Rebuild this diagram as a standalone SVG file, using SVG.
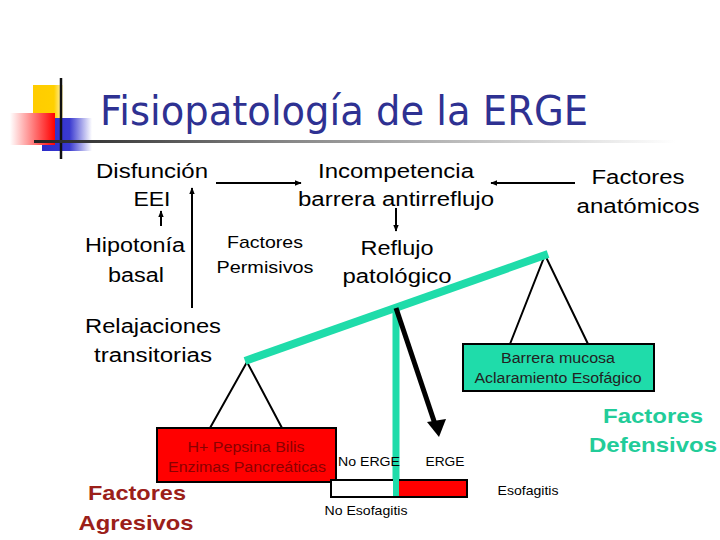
<svg xmlns="http://www.w3.org/2000/svg" width="720" height="540" viewBox="0 0 720 540">
<defs>
<linearGradient id="gRed" x1="0" y1="0" x2="1" y2="0"><stop offset="0" stop-color="#ffffff"/><stop offset="1" stop-color="#ff0000"/></linearGradient>
<linearGradient id="gBlue" x1="0" y1="0" x2="1" y2="0"><stop offset="0" stop-color="#2b2bc8"/><stop offset="0.55" stop-color="#3a3ad0"/><stop offset="1" stop-color="#ffffff"/></linearGradient>
<linearGradient id="gYel" x1="0" y1="0" x2="1" y2="0"><stop offset="0" stop-color="#ffcc00"/><stop offset="0.7" stop-color="#ffd000"/><stop offset="1" stop-color="#fff4c0"/></linearGradient>
<linearGradient id="gLine" x1="0" y1="0" x2="1" y2="0"><stop offset="0" stop-color="#222222"/><stop offset="0.4" stop-color="#888888"/><stop offset="1" stop-color="#ffffff"/></linearGradient>
<marker id="ah" viewBox="0 0 10 10" refX="9" refY="5" markerWidth="7" markerHeight="7" orient="auto" markerUnits="userSpaceOnUse"><path d="M0,1 L10,5 L0,9 Z" fill="#000"/></marker>
</defs>
<style>
text{font-family:"Liberation Sans",Arial,sans-serif;fill:#000;text-anchor:middle}
.t{font-size:20px}
.s{font-size:17px}
.sm{font-size:14px}
.xs{font-size:13px}
.agr{font-size:21px;font-weight:bold;fill:#9b2019}
.def{font-size:21px;font-weight:bold;fill:#22cc99}
.arr{stroke:#000;stroke-width:2;fill:none;marker-end:url(#ah)}
.thin{stroke:#000;stroke-width:2;fill:none}
.lever{stroke:#1fdcaa;stroke-width:8;stroke-linecap:butt}
</style>
<rect width="720" height="540" fill="#fff"/>
<g id="deco">
<rect x="33" y="85" width="30" height="33" fill="url(#gYel)"/>
<rect x="42" y="118" width="50" height="33" fill="url(#gBlue)"/>
<rect x="10" y="113" width="45" height="32" fill="url(#gRed)"/>
<line x1="61" y1="78" x2="61" y2="159" stroke="#111" stroke-width="2.5"/>
<rect x="34" y="140" width="642" height="3" fill="url(#gLine)"/>
</g>
<text x="100" y="125" font-size="40" style="fill:#2e3192;font-family:'DejaVu Sans',sans-serif;text-anchor:start" textLength="488" lengthAdjust="spacingAndGlyphs">Fisiopatología de la ERGE</text>
<g id="connectors">
<line class="arr" x1="216" y1="183" x2="301" y2="183"/>
<line class="arr" x1="575" y1="183" x2="491" y2="183"/>
<line class="arr" x1="396" y1="208" x2="396" y2="231"/>
<line class="arr" x1="161" y1="226" x2="161" y2="211"/>
<line class="arr" x1="192" y1="308" x2="192" y2="188"/>
<polyline class="thin" points="210,428 247,362 282,428"/>
<polyline class="thin" points="510,344 545,255 588,344"/>
<line x1="396" y1="306" x2="396" y2="496" stroke="#1fdcaa" stroke-width="7"/>
<line class="lever" x1="245" y1="361" x2="548" y2="254"/>
<line x1="396" y1="308" x2="435" y2="424" stroke="#000" stroke-width="5"/>
<path d="M427,422 L446,419 L439,437 Z" fill="#000"/>
</g>
<g id="n-disfuncion"><text class="t" x="152" y="178" textLength="112" lengthAdjust="spacingAndGlyphs">Disfunción</text><text class="t" x="152" y="206" textLength="37" lengthAdjust="spacingAndGlyphs">EEI</text></g>
<g id="n-incompetencia"><text class="t" x="396" y="178" textLength="156" lengthAdjust="spacingAndGlyphs">Incompetencia</text><text class="t" x="396" y="206" textLength="196" lengthAdjust="spacingAndGlyphs">barrera antirreflujo</text></g>
<g id="n-anatomicos"><text class="t" x="638" y="184" textLength="93" lengthAdjust="spacingAndGlyphs">Factores</text><text class="t" x="638" y="213" textLength="123" lengthAdjust="spacingAndGlyphs">anatómicos</text></g>
<g id="n-hipotonia"><text class="t" x="135" y="252" textLength="100" lengthAdjust="spacingAndGlyphs">Hipotonía</text><text class="t" x="136" y="282" textLength="56" lengthAdjust="spacingAndGlyphs">basal</text></g>
<g id="n-permisivos"><text class="s" x="265" y="248" textLength="76" lengthAdjust="spacingAndGlyphs">Factores</text><text class="s" x="265" y="273" textLength="97" lengthAdjust="spacingAndGlyphs">Permisivos</text></g>
<g id="n-reflujo"><text class="t" x="397" y="255" textLength="73" lengthAdjust="spacingAndGlyphs">Reflujo</text><text class="t" x="397" y="283" textLength="109" lengthAdjust="spacingAndGlyphs">patológico</text></g>
<g id="n-relajaciones"><text class="t" x="153" y="333" textLength="136" lengthAdjust="spacingAndGlyphs">Relajaciones</text><text class="t" x="153" y="362" textLength="118" lengthAdjust="spacingAndGlyphs">transitorias</text></g>
<g id="n-agresores">
<rect x="157" y="428" width="179" height="54" fill="#ff0000" stroke="#000" stroke-width="2"/>
<text class="sm" x="246" y="452" style="fill:#8b0000" textLength="117" lengthAdjust="spacingAndGlyphs">H+ Pepsina Bilis</text>
<text class="sm" x="247" y="472" style="fill:#8b0000" textLength="158" lengthAdjust="spacingAndGlyphs">Enzimas Pancreáticas</text>
</g>
<g id="n-barrera">
<rect x="463" y="344" width="191" height="47" fill="#1fdcaa" stroke="#000" stroke-width="2"/>
<text class="sm" x="558" y="363" style="fill:#222" textLength="114" lengthAdjust="spacingAndGlyphs">Barrera mucosa</text>
<text class="sm" x="558" y="383" style="fill:#222" textLength="167" lengthAdjust="spacingAndGlyphs">Aclaramiento Esofágico</text>
</g>
<g id="n-bar">
<rect x="331" y="480" width="65" height="17" fill="#fff" stroke="#000" stroke-width="2"/>
<rect x="396" y="480" width="71" height="17" fill="#ff0000" stroke="#000" stroke-width="2"/>
<line x1="396" y1="470" x2="396" y2="496" stroke="#1fdcaa" stroke-width="6"/>
</g>
<g id="labels">
<text class="xs" x="369" y="466" textLength="62" lengthAdjust="spacingAndGlyphs">No ERGE</text>
<text class="xs" x="445" y="466" textLength="39" lengthAdjust="spacingAndGlyphs">ERGE</text>
<text class="xs" x="528" y="495" textLength="61" lengthAdjust="spacingAndGlyphs">Esofagitis</text>
<text class="xs" x="366" y="515" textLength="83" lengthAdjust="spacingAndGlyphs">No Esofagitis</text>
</g>
<g id="n-factores-agresivos"><text class="agr" x="137" y="500" textLength="98" lengthAdjust="spacingAndGlyphs">Factores</text><text class="agr" x="136" y="530" textLength="115" lengthAdjust="spacingAndGlyphs">Agresivos</text></g>
<g id="n-factores-defensivos"><text class="def" x="653" y="423" textLength="100" lengthAdjust="spacingAndGlyphs">Factores</text><text class="def" x="653" y="452" textLength="128" lengthAdjust="spacingAndGlyphs">Defensivos</text></g>
</svg>
